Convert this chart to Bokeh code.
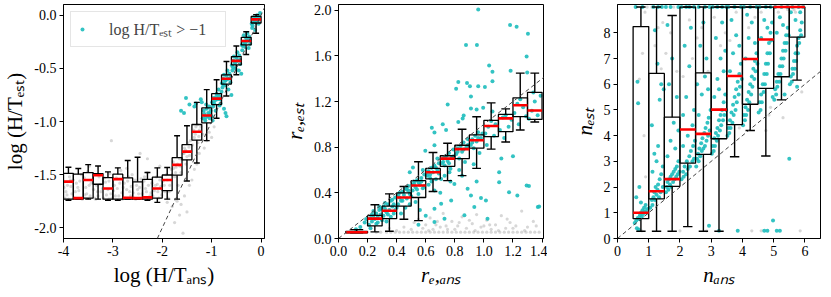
from bokeh.plotting import figure
from bokeh.layouts import row
from bokeh.models import Slope, FixedTicker, PrintfTickFormatter, Legend, LegendItem, Range1d
from bokeh.embed import file_html
from bokeh.resources import INLINE

# ---------------- data ----------------
# panel 1 : log(H/T)
edges1 = [-4.0, -3.8, -3.6, -3.4, -3.2, -3.0, -2.8, -2.6, -2.4, -2.2, -2.0,
          -1.8, -1.6, -1.4, -1.2, -1.0, -0.8, -0.6, -0.4, -0.2, 0.0]
lo1 = [-1.74, -1.73, -1.73, -1.73, -1.74, -1.74, -1.73, -1.73, -1.74, -1.76, -1.73,
       -1.73, -1.56, -1.39, -1.18, -0.97, -0.76, -0.56, -0.37, -0.17]
q1_1 = [-1.73, -1.73, -1.72, -1.59, -1.73, -1.73, -1.73, -1.73, -1.73, -1.72, -1.65,
        -1.505, -1.36, -1.175, -1.012, -0.841, -0.648, -0.467, -0.28, -0.074]
med1 = [-1.565, -1.72, -1.55, -1.505, -1.63, -1.542, -1.717, -1.72, -1.713, -1.63, -1.55,
        -1.408, -1.283, -1.097, -0.944, -0.785, -0.598, -0.43, -0.243, -0.04]
q3_1 = [-1.488, -1.495, -1.48, -1.49, -1.527, -1.495, -1.53, -1.567, -1.545, -1.523, -1.503,
        -1.34, -1.218, -1.028, -0.872, -0.738, -0.561, -0.39, -0.209, -0.012]
hi1 = [-1.43, -1.442, -1.405, -1.418, -1.474, -1.436, -1.367, -1.336, -1.48, -1.436, -1.433,
       -1.134, -1.04, -0.82, -0.70, -0.607, -0.436, -0.29, -0.156, 0.005]

gray1 = [(-3.97, -1.72), (-3.92, -1.60), (-3.88, -1.52), (-3.83, -1.68), (-3.78, -1.72), (-3.74, -1.58),
         (-3.69, -1.65), (-3.64, -1.50), (-3.60, -1.72), (-3.55, -1.62), (-3.51, -1.47), (-3.46, -1.70),
         (-3.42, -1.55), (-3.37, -1.72), (-3.33, -1.60), (-3.28, -1.52), (-3.24, -1.66), (-3.19, -1.72),
         (-3.15, -1.57), (-3.10, -1.64), (-3.06, -1.49), (-3.02, -1.72), (-2.97, -1.60), (-2.93, -1.53),
         (-2.88, -1.70), (-2.84, -1.46), (-2.79, -1.62), (-2.75, -1.72), (-2.70, -1.56), (-2.66, -1.66),
         (-2.61, -1.50), (-2.57, -1.72), (-2.52, -1.60), (-2.48, -1.68), (-2.43, -1.54), (-2.39, -1.72),
         (-2.34, -1.63), (-2.30, -1.48), (-2.25, -1.70), (-2.21, -1.58), (-2.16, -1.65), (-2.12, -1.52),
         (-2.07, -1.72), (-2.03, -1.61), (-3.95, -1.66), (-3.86, -1.55), (-3.71, -1.62), (-3.57, -1.69),
         (-3.44, -1.58), (-3.31, -1.66), (-3.17, -1.53), (-3.04, -1.68), (-2.91, -1.63), (-2.77, -1.58),
         (-2.64, -1.70), (-2.50, -1.64), (-2.37, -1.56), (-2.23, -1.67), (-2.10, -1.59), (-3.90, -1.73),
         (-3.62, -1.73), (-3.35, -1.73), (-3.08, -1.73), (-2.81, -1.73), (-2.54, -1.73), (-2.27, -1.73),
         (-3.99, -1.62), (-3.93, -1.69), (-3.85, -1.61), (-3.80, -1.55), (-3.76, -1.66), (-3.67, -1.56),
         (-3.58, -1.53), (-3.53, -1.68), (-3.48, -1.60), (-3.39, -1.64), (-3.30, -1.70), (-3.26, -1.59),
         (-3.21, -1.63), (-3.13, -1.69), (-3.08, -1.56), (-2.99, -1.65), (-2.95, -1.70), (-2.86, -1.58),
         (-2.82, -1.67), (-2.72, -1.64), (-2.68, -1.52), (-2.63, -1.61), (-2.59, -1.67), (-2.55, -1.55),
         (-2.46, -1.62), (-2.41, -1.68), (-2.36, -1.52), (-2.32, -1.66), (-2.28, -1.60), (-2.19, -1.70),
         (-2.14, -1.60), (-2.09, -1.66), (-2.05, -1.55), (-2.01, -1.69),
         (-3.03, -1.18), (-2.30, -1.35), (-2.05, -1.42), (-2.45, -1.30), (-2.72, -1.44), (-3.48, -1.42),
         (-1.98, -1.56), (-1.95, -1.66), (-1.92, -1.50), (-1.88, -1.72), (-1.85, -1.60), (-1.82, -1.45),
         (-1.78, -1.38), (-1.75, -1.52), (-1.72, -1.43), (-1.68, -1.60), (-1.65, -1.35), (-1.62, -1.48),
         (-1.58, -1.30), (-1.55, -1.25), (-1.52, -1.40), (-1.48, -1.20), (-1.45, -1.32), (-1.42, -1.28),
         (-1.38, -1.10), (-1.35, -1.15), (-1.32, -1.05), (-1.28, -1.20), (-1.25, -1.08), (-1.18, -1.12),
         (-1.96, -1.60), (-1.90, -1.55), (-1.86, -1.66), (-1.80, -1.50), (-1.77, -1.44), (-1.73, -1.48),
         (-1.69, -1.40), (-1.64, -1.42), (-1.60, -1.36), (-1.56, -1.30), (-1.53, -1.27), (-1.50, -1.33),
         (-1.46, -1.24), (-1.43, -1.18), (-1.39, -1.22), (-1.36, -1.08), (-1.33, -1.12), (-1.29, -1.03),
         (-1.26, -1.14), (-1.22, -1.05),
         (-1.70, -1.75), (-1.62, -1.78), (-1.55, -1.70), (-1.50, -1.85), (-1.45, -1.60), (-1.40, -1.55),
         (-1.35, -1.45), (-1.30, -1.40), (-1.25, -1.30), (-1.15, -1.25), (-1.10, -1.18), (-1.05, -1.10),
         (-1.00, -1.15), (-0.95, -1.05), (-1.58, -2.05), (-1.75, -1.95), (-1.65, -1.88), (-1.90, -1.76),
         (-1.80, -1.80)]

cyan1 = [(-1.18, -0.97), (-1.15, -0.93), (-1.12, -0.96), (-1.10, -0.88), (-1.07, -0.92), (-1.04, -0.97),
         (-1.02, -0.90), (-1.00, -0.95), (-1.13, -0.99), (-1.05, -0.86), (-0.98, -0.99), (-1.08, -0.95),
         (-0.99, -0.82), (-0.96, -0.78), (-0.93, -0.80), (-0.90, -0.74), (-0.88, -0.79), (-0.85, -0.76),
         (-0.82, -0.83), (-0.80, -0.72), (-0.97, -0.86), (-0.86, -0.70), (-0.92, -0.90), (-0.84, -0.85),
         (-0.79, -0.64), (-0.76, -0.60), (-0.73, -0.62), (-0.70, -0.57), (-0.67, -0.60), (-0.64, -0.55),
         (-0.62, -0.63), (-0.78, -0.68), (-0.68, -0.52), (-0.72, -0.66), (-0.66, -0.70), (-0.75, -0.56),
         (-0.59, -0.47), (-0.56, -0.43), (-0.53, -0.45), (-0.50, -0.40), (-0.47, -0.43), (-0.44, -0.38),
         (-0.42, -0.46), (-0.58, -0.52), (-0.48, -0.35), (-0.52, -0.50), (-0.45, -0.52), (-0.55, -0.39),
         (-0.39, -0.28), (-0.36, -0.25), (-0.33, -0.26), (-0.30, -0.22), (-0.27, -0.24), (-0.24, -0.20),
         (-0.22, -0.27), (-0.38, -0.33), (-0.28, -0.17), (-0.32, -0.30), (-0.25, -0.31), (-0.35, -0.19),
         (-0.19, -0.08), (-0.16, -0.05), (-0.13, -0.06), (-0.10, -0.03), (-0.07, -0.04), (-0.04, -0.01),
         (-0.18, -0.12), (-0.12, -0.14), (-0.08, 0.00), (-0.15, -0.02), (-0.05, -0.08), (-0.02, 0.02),
         (-1.16, -0.90), (-1.11, -0.84), (-1.03, -0.93), (-0.95, -0.83), (-0.91, -0.77), (-0.83, -0.79),
         (-0.77, -0.65), (-0.71, -0.61), (-0.63, -0.59), (-0.57, -0.49), (-0.51, -0.44), (-0.43, -0.42),
         (-0.37, -0.29), (-0.31, -0.26), (-0.23, -0.23), (-0.17, -0.10), (-0.11, -0.07), (-0.06, -0.05),
         (-1.52, -0.78), (-1.62, -0.90), (-1.56, -0.92), (-1.32, -0.83), (-1.35, -0.86), (-1.45, -0.84),
         (-1.22, -0.79), (-0.72, -0.92), (-0.70, -0.95), (-0.75, -0.88), (-1.20, -0.82), (-0.60, -0.75),
         (-0.40, -0.55)]

# panel 2 : r_e
edges2 = [0.05, 0.2, 0.3, 0.4, 0.5, 0.6, 0.7, 0.8, 0.9, 1.0, 1.1, 1.2, 1.3, 1.4]
lo2 = [0.05, 0.058, 0.064, 0.168, 0.157, 0.412, 0.507, 0.551, 0.614, 0.783, 0.846, 0.95, 1.02]
q1_2 = [0.05, 0.11, 0.174, 0.284, 0.359, 0.522, 0.632, 0.70, 0.791, 0.893, 0.936, 1.067, 1.043]
med2 = [0.055, 0.174, 0.243, 0.359, 0.464, 0.58, 0.70, 0.783, 0.861, 0.985, 1.052, 1.168, 1.122]
q3_2 = [0.062, 0.203, 0.284, 0.40, 0.507, 0.614, 0.725, 0.817, 0.907, 1.035, 1.087, 1.232, 1.281]
hi2 = [0.078, 0.296, 0.391, 0.455, 0.672, 0.754, 0.835, 0.957, 1.067, 1.188, 1.136, 1.449, 1.449]

cyan2 = [(0.15, 0.10), (0.18, 0.14), (0.12, 0.08), (0.19, 0.17),
         (0.21, 0.12), (0.22, 0.18), (0.23, 0.15), (0.24, 0.20), (0.25, 0.17), (0.26, 0.22), (0.27, 0.19),
         (0.28, 0.25), (0.29, 0.21), (0.22, 0.09), (0.26, 0.13), (0.28, 0.28), (0.24, 0.24), (0.30, 0.16),
         (0.31, 0.20), (0.32, 0.26), (0.33, 0.23), (0.34, 0.30), (0.35, 0.25), (0.36, 0.33), (0.37, 0.28),
         (0.38, 0.22), (0.39, 0.36), (0.33, 0.15), (0.36, 0.19), (0.38, 0.30), (0.32, 0.31), (0.40, 0.27),
         (0.41, 0.30), (0.42, 0.36), (0.43, 0.33), (0.44, 0.41), (0.45, 0.38), (0.46, 0.44), (0.47, 0.35),
         (0.48, 0.42), (0.49, 0.30), (0.43, 0.22), (0.46, 0.27), (0.48, 0.46), (0.42, 0.40), (0.50, 0.37),
         (0.51, 0.42), (0.52, 0.48), (0.53, 0.45), (0.54, 0.51), (0.55, 0.39), (0.56, 0.47), (0.57, 0.53),
         (0.58, 0.44), (0.59, 0.56), (0.53, 0.32), (0.56, 0.25), (0.58, 0.60), (0.52, 0.50), (0.55, 0.49),
         (0.61, 0.55), (0.62, 0.59), (0.63, 0.56), (0.64, 0.62), (0.65, 0.58), (0.66, 0.64), (0.67, 0.52),
         (0.68, 0.60), (0.69, 0.66), (0.62, 0.47), (0.66, 0.42), (0.68, 0.70), (0.64, 0.50),
         (0.71, 0.66), (0.72, 0.70), (0.73, 0.64), (0.74, 0.72), (0.75, 0.68), (0.76, 0.75), (0.77, 0.61),
         (0.78, 0.71), (0.79, 0.78), (0.73, 0.55), (0.77, 0.50),
         (0.81, 0.74), (0.82, 0.79), (0.83, 0.70), (0.84, 0.81), (0.85, 0.76), (0.86, 0.84), (0.87, 0.67),
         (0.88, 0.80), (0.89, 0.87), (0.83, 0.60),
         (0.91, 0.82), (0.92, 0.87), (0.93, 0.79), (0.94, 0.90), (0.95, 0.85), (0.96, 0.93), (0.97, 0.75),
         (0.98, 0.88), (0.93, 0.65),
         (1.01, 0.92), (1.03, 0.98), (1.05, 1.03), (1.07, 0.90), (1.08, 1.00), (1.02, 0.82),
         (1.11, 0.95), (1.13, 1.06), (1.15, 1.08), (1.17, 0.98), (1.19, 1.04), (1.14, 0.88),
         (1.21, 1.10), (1.23, 1.18), (1.25, 1.22), (1.27, 1.15), (1.29, 1.07), (1.24, 1.00),
         (1.31, 1.05), (1.33, 1.12), (1.35, 1.20), (1.37, 1.08), (1.39, 1.25), (1.34, 1.28),
         (0.23, 0.21), (0.27, 0.14), (0.29, 0.26), (0.31, 0.28), (0.34, 0.21), (0.37, 0.34), (0.39, 0.25),
         (0.41, 0.38), (0.44, 0.33), (0.47, 0.43), (0.49, 0.39), (0.51, 0.47), (0.54, 0.43), (0.57, 0.50),
         (0.59, 0.46), (0.61, 0.58), (0.63, 0.53), (0.67, 0.62), (0.69, 0.57), (0.72, 0.67), (0.76, 0.66),
         (0.79, 0.72), (0.82, 0.76), (0.86, 0.78), (0.89, 0.82), (0.92, 0.84), (0.96, 0.88), (0.99, 0.92),
         (0.961, 2.006), (1.18, 1.87), (1.225, 1.855), (1.303, 1.794), (0.877, 1.696), (0.952, 1.696),
         (1.294, 1.594), (1.036, 1.516), (1.059, 1.461), (1.184, 1.47), (1.298, 1.455), (0.824, 1.371),
         (0.809, 1.313), (0.884, 1.362), (0.904, 1.333), (0.961, 1.333), (1.007, 1.327), (1.059, 1.377),
         (0.911, 1.243), (0.751, 1.174), (0.911, 1.139), (0.95, 1.13), (0.995, 1.145), (0.861, 1.078),
         (0.854, 1.052), (0.824, 1.02), (0.717, 1.0), (0.642, 0.971), (0.66, 0.928), (0.74, 0.95),
         (1.059, 1.113), (0.66, 0.817), (0.597, 0.768), (0.512, 0.623), (0.49, 0.58), (0.706, 0.522),
         (0.763, 0.58), (0.797, 0.478), (0.888, 0.435), (0.911, 0.377), (0.98, 0.354), (1.014, 0.333),
         (1.105, 0.58), (1.105, 0.493), (1.173, 0.406), (1.23, 0.377), (1.294, 0.464), (1.371, 0.275),
         (1.025, 0.174), (0.934, 0.275), (0.775, 0.333), (0.706, 0.304), (0.66, 0.261), (0.729, 0.174),
         (0.866, 0.203), (0.66, 0.145), (0.60, 0.20), (0.55, 0.12), (0.70, 0.40), (0.85, 0.55),
         (0.95, 0.50), (1.12, 0.70), (1.20, 0.72), (1.38, 0.28), (1.31, 0.46)]

gray2 = [(0.26, 0.055), (0.29, 0.055), (0.33, 0.055), (0.36, 0.055), (0.39, 0.055), (0.42, 0.055),
         (0.45, 0.055), (0.48, 0.055), (0.51, 0.055), (0.54, 0.055), (0.57, 0.055), (0.60, 0.055),
         (0.63, 0.055), (0.66, 0.055), (0.69, 0.055), (0.72, 0.055), (0.75, 0.055), (0.78, 0.055),
         (0.81, 0.055), (0.84, 0.055), (0.87, 0.055), (0.90, 0.055), (0.93, 0.055), (0.96, 0.055),
         (0.99, 0.055), (1.02, 0.055), (1.05, 0.055), (1.08, 0.055), (1.11, 0.055), (1.14, 0.055),
         (1.17, 0.055), (1.20, 0.055), (1.23, 0.055), (1.26, 0.055), (1.29, 0.055), (1.32, 0.055),
         (1.35, 0.055), (1.38, 0.055),
         (0.45, 0.10), (0.52, 0.14), (0.58, 0.09), (0.63, 0.18), (0.67, 0.12), (0.72, 0.22), (0.75, 0.08),
         (0.78, 0.15), (0.82, 0.11), (0.85, 0.19), (0.88, 0.09), (0.92, 0.13), (0.95, 0.21), (0.98, 0.10),
         (1.02, 0.16), (1.05, 0.08), (1.08, 0.12), (1.12, 0.20), (1.15, 0.09), (1.18, 0.14), (1.22, 0.11),
         (1.26, 0.24), (1.30, 0.10), (1.34, 0.15), (0.60, 0.12), (0.70, 0.10), (0.80, 0.08), (0.90, 0.16),
         (1.00, 0.11), (1.10, 0.07), (1.20, 0.09), (0.50, 0.08), (0.55, 0.17), (0.65, 0.08), (0.40, 0.07),
         (0.35, 0.09), (0.62, 0.07), (0.68, 0.15), (0.74, 0.11), (0.83, 0.14), (0.94, 0.07), (1.04, 0.12),
         (1.16, 0.17), (1.28, 0.07), (1.36, 0.11)]

# panel 3 : n
edges3 = [0.5, 1.0, 1.5, 2.0, 2.5, 3.0, 3.5, 4.0, 4.5, 5.0, 5.5, 6.0]
lo3 = [0.28, 0.28, 0.28, 0.46, 0.28, 0.28, 3.18, 4.2, 3.21, 5.39, 6.16]
q1_3 = [0.77, 1.54, 2.03, 2.93, 3.27, 3.88, 4.43, 5.22, 5.84, 6.29, 7.83]
med3 = [1.0, 1.84, 2.31, 4.24, 4.07, 5.01, 6.32, 6.98, 7.74, 9.0, 9.0]
q3_3 = [8.24, 6.42, 4.72, 9.0, 6.44, 9.0, 9.0, 9.0, 9.0, 9.0, 9.0]
hi3 = [9.0, 9.0, 8.67, 9.0, 9.0, 9.0, 9.0, 9.0, 9.0, 9.0, 9.0]

cyan3 = [(0.55, 0.6), (0.6, 0.7), (0.65, 0.8), (0.7, 0.75), (0.72, 0.9), (0.75, 1.0), (0.78, 0.85),
         (0.8, 1.1), (0.82, 0.95), (0.85, 1.2), (0.88, 1.05), (0.9, 1.3), (0.93, 1.0), (0.95, 1.15),
         (0.62, 0.4), (0.68, 0.35), (0.66, 5.26), (0.6, 1.6), (0.7, 2.0), (0.58, 9.0), (0.8, 9.0),
         (0.64, 6.1), (0.75, 1.4),
         (1.05, 1.2), (1.1, 1.5), (1.12, 1.3), (1.15, 1.6), (1.18, 1.8), (1.2, 1.5), (1.22, 2.0), (1.25, 1.7),
         (1.28, 1.9), (1.3, 2.1), (1.33, 1.6), (1.35, 2.3), (1.38, 1.8), (1.4, 2.5), (1.45, 2.0), (1.12, 2.6),
         (1.18, 3.3), (1.3, 3.6), (1.35, 5.4), (1.28, 6.8), (1.2, 8.1), (1.4, 6.0), (1.1, 4.4), (1.25, 3.0),
         (1.45, 2.8), (1.15, 9.0), (1.3, 9.0), (1.42, 9.0), (1.48, 5.8),
         (1.55, 1.8), (1.58, 2.0), (1.6, 2.2), (1.63, 1.9), (1.65, 2.3), (1.68, 2.1), (1.7, 2.4), (1.72, 2.0),
         (1.75, 2.5), (1.78, 2.2), (1.8, 2.6), (1.83, 2.3), (1.85, 2.7), (1.88, 2.4), (1.9, 2.8), (1.93, 2.5),
         (1.95, 3.0), (1.98, 2.6), (1.6, 3.2), (1.7, 3.8), (1.8, 4.5), (1.65, 6.0), (1.75, 7.0), (1.9, 5.5),
         (1.85, 3.5), (1.55, 9.0), (1.7, 9.0), (1.95, 9.0), (1.6, 8.3), (1.95, 4.2),
         (2.05, 2.3), (2.1, 2.6), (2.12, 2.4), (2.15, 2.8), (2.2, 2.5), (2.22, 3.0), (2.25, 2.7), (2.3, 3.2),
         (2.32, 2.8), (2.35, 3.4), (2.4, 3.0), (2.42, 3.6), (2.45, 3.1), (2.48, 3.8), (2.1, 4.8), (2.2, 5.5),
         (2.3, 6.7), (2.4, 4.4), (2.15, 7.5), (2.35, 8.2), (2.45, 5.0), (2.25, 4.0), (2.05, 9.0), (2.2, 9.0),
         (2.3, 9.0), (2.45, 9.0), (2.1, 3.6),
         (2.52, 2.8), (2.55, 3.1), (2.58, 3.3), (2.6, 3.0), (2.62, 3.5), (2.65, 3.2), (2.68, 3.7), (2.7, 3.4),
         (2.72, 3.9), (2.75, 3.5), (2.78, 4.1), (2.8, 3.6), (2.82, 4.3), (2.85, 3.8), (2.88, 4.5), (2.9, 4.0),
         (2.92, 4.7), (2.95, 4.2), (2.98, 5.0), (2.6, 4.8), (2.7, 5.6), (2.8, 6.3), (2.65, 7.5), (2.9, 5.8),
         (2.55, 6.0), (2.75, 8.4), (2.85, 7.0), (2.6, 9.0), (2.8, 9.0), (2.95, 9.0), (2.93, 0.5),
         (3.02, 3.3), (3.05, 3.6), (3.08, 3.4), (3.1, 3.9), (3.12, 3.6), (3.15, 4.1), (3.18, 3.8), (3.2, 4.3),
         (3.22, 4.0), (3.25, 4.6), (3.28, 4.2), (3.3, 4.8), (3.32, 4.4), (3.35, 5.0), (3.38, 4.6), (3.4, 5.3),
         (3.42, 4.8), (3.45, 5.6), (3.48, 5.0), (3.1, 5.5), (3.2, 6.2), (3.3, 7.0), (3.4, 6.5), (3.15, 7.8),
         (3.35, 8.4), (3.25, 5.8), (3.45, 7.3), (3.05, 9.0), (3.2, 9.0), (3.35, 9.0), (3.48, 9.0), (3.25, 0.3),
         (3.52, 4.0), (3.55, 4.3), (3.58, 4.1), (3.6, 4.6), (3.62, 4.3), (3.65, 4.9), (3.68, 4.5), (3.7, 5.2),
         (3.72, 4.8), (3.75, 5.5), (3.78, 5.0), (3.8, 5.8), (3.82, 5.3), (3.85, 6.1), (3.88, 5.6), (3.9, 6.4),
         (3.92, 5.9), (3.95, 6.8), (3.98, 6.2), (3.6, 6.5), (3.7, 7.2), (3.8, 7.9), (3.65, 8.5), (3.9, 7.5),
         (3.55, 9.0), (3.75, 9.0), (3.95, 9.0), (3.85, 0.3),
         (4.02, 4.4), (4.05, 4.8), (4.08, 4.6), (4.1, 5.1), (4.12, 4.8), (4.15, 5.4), (4.18, 5.0), (4.2, 5.7),
         (4.22, 5.3), (4.25, 6.0), (4.28, 5.6), (4.3, 6.3), (4.32, 5.9), (4.35, 6.6), (4.38, 6.2), (4.4, 6.9),
         (4.42, 6.5), (4.45, 7.2), (4.48, 6.8), (4.1, 7.0), (4.2, 7.8), (4.3, 8.4), (4.4, 7.6), (4.15, 8.7),
         (4.05, 9.0), (4.25, 9.0), (4.45, 9.0),
         (4.52, 4.9), (4.55, 5.3), (4.58, 5.0), (4.6, 5.6), (4.62, 5.3), (4.65, 6.0), (4.68, 5.7), (4.7, 6.4),
         (4.72, 6.0), (4.75, 6.8), (4.78, 6.4), (4.8, 7.2), (4.82, 6.8), (4.85, 7.6), (4.88, 7.2), (4.9, 8.0),
         (4.92, 7.7), (4.95, 8.4), (4.6, 7.8), (4.7, 8.5), (4.8, 8.2), (4.55, 9.0), (4.75, 9.0), (4.9, 9.0),
         (4.7, 0.3), (4.8, 0.3), (4.98, 0.7), (4.97, 5.5),
         (5.02, 5.4), (5.05, 5.8), (5.08, 5.6), (5.1, 6.1), (5.12, 5.9), (5.15, 6.4), (5.18, 6.1), (5.2, 6.7),
         (5.22, 6.4), (5.25, 7.0), (5.28, 6.7), (5.3, 7.3), (5.32, 7.0), (5.35, 7.6), (5.38, 7.3), (5.4, 7.9),
         (5.42, 7.6), (5.45, 8.2), (5.48, 7.9), (5.1, 8.0), (5.2, 8.6), (5.3, 8.3), (5.05, 9.0), (5.25, 9.0),
         (5.45, 9.0), (5.1, 0.3), (5.2, 0.3), (5.5, 3.1), (5.35, 5.6),
         (5.52, 6.0), (5.55, 6.3), (5.58, 6.1), (5.6, 6.6), (5.62, 6.4), (5.65, 6.9), (5.68, 6.6), (5.7, 7.2),
         (5.72, 6.9), (5.75, 7.5), (5.78, 7.2), (5.8, 7.8), (5.82, 7.6), (5.85, 8.1), (5.88, 7.9), (5.9, 8.4),
         (5.55, 8.8), (5.7, 8.5), (5.85, 8.8), (5.6, 9.0), (5.8, 9.0), (5.95, 9.0), (5.75, 5.9)]

gray3 = [(0.8, 7.2), (0.85, 4.0), (0.9, 2.4), (0.7, 6.2), (0.6, 9.0), (0.95, 9.0), (0.88, 8.8), (0.78, 0.3),
         (1.2, 7.5), (1.4, 6.6), (1.1, 9.0), (1.45, 8.4), (1.3, 8.2),
         (1.7, 8.0), (1.9, 6.5), (1.55, 7.2), (1.8, 9.0),
         (2.3, 8.5), (2.1, 6.3), (2.4, 7.0), (2.0, 0.3), (2.35, 9.0),
         (2.7, 8.2), (2.9, 6.5), (2.55, 7.8), (2.85, 0.3),
         (3.1, 8.6), (3.3, 7.5), (3.45, 8.0), (3.15, 9.0),
         (3.6, 7.7), (3.8, 8.8), (3.9, 4.3), (3.7, 9.0),
         (4.2, 8.2), (4.4, 8.6), (4.35, 9.0), (4.3, 0.3),
         (4.6, 8.8), (4.85, 4.8), (4.9, 5.1), (4.6, 0.3), (4.75, 4.2),
         (5.15, 8.8), (5.3, 4.7), (5.45, 8.9), (5.4, 9.0),
         (5.65, 8.9), (5.9, 5.7), (5.85, 0.3), (5.9, 9.0), (5.7, 8.8)]

legend_label = "log H/Tₑₛₜ > −1"

# ---------------- styling ----------------
CYAN = "#1dbdbd"
GRAY = "#9a9a9a"
SERIF = "Liberation Serif"


def make_fig(xr, yr, fw, left, right, xticks, yticks, xfmt, yfmt, xlabel, ylabel, italic):
    p = figure(frame_width=fw, frame_height=234, x_range=Range1d(*xr), y_range=Range1d(*yr),
               output_backend="svg", toolbar_location=None,
               min_border_left=left, min_border_right=right, min_border_top=4, min_border_bottom=48)
    p.grid.visible = False
    p.outline_line_color = "black"
    p.outline_line_alpha = 1.0
    p.outline_line_width = 1
    p.background_fill_color = "white"
    p.border_fill_color = "white"
    p.xaxis.ticker = FixedTicker(ticks=xticks)
    p.yaxis.ticker = FixedTicker(ticks=yticks)
    p.xaxis.formatter = PrintfTickFormatter(format=xfmt)
    p.yaxis.formatter = PrintfTickFormatter(format=yfmt)
    p.xaxis.axis_label = xlabel
    p.yaxis.axis_label = ylabel
    for ax in p.axis:
        ax.axis_line_color = "black"
        ax.major_tick_line_color = "black"
        ax.major_tick_in = 0
        ax.major_tick_out = 4
        ax.minor_tick_line_color = None
        ax.major_label_text_font = SERIF
        ax.major_label_text_font_size = "14px"
        ax.major_label_text_color = "black"
        ax.major_label_standoff = 3
        ax.axis_label_text_font = SERIF
        ax.axis_label_text_font_size = "21px"
        ax.axis_label_text_font_style = "italic" if italic else "normal"
        ax.axis_label_text_color = "black"
        ax.axis_label_standoff = 4
    return p


def draw_boxes(p, edges, lo, q1, med, q3, hi):
    xc = [(a + b) / 2 for a, b in zip(edges[:-1], edges[1:])]
    w = [(b - a) for a, b in zip(edges[:-1], edges[1:])]
    cap = [0.6 * v for v in w]
    p.segment(x0=xc, y0=q3, x1=xc, y1=hi, line_color="black", line_width=1.4)
    p.segment(x0=xc, y0=q1, x1=xc, y1=lo, line_color="black", line_width=1.4)
    p.segment(x0=[c - k / 2 for c, k in zip(xc, cap)], y0=hi, x1=[c + k / 2 for c, k in zip(xc, cap)], y1=hi,
              line_color="black", line_width=1.4)
    p.segment(x0=[c - k / 2 for c, k in zip(xc, cap)], y0=lo, x1=[c + k / 2 for c, k in zip(xc, cap)], y1=lo,
              line_color="black", line_width=1.4)
    p.vbar(x=xc, width=w, bottom=q1, top=q3, fill_color=None, line_color="black", line_width=1.3)
    p.segment(x0=[c - v / 2 for c, v in zip(xc, w)], y0=med, x1=[c + v / 2 for c, v in zip(xc, w)], y1=med,
              line_color="#ff0000", line_width=2.6)


def pts(p, data, color, size, alpha):
    return p.scatter([d[0] for d in data], [d[1] for d in data], size=size, color=color,
                     alpha=alpha, line_color=None)


def diag(p):
    p.add_layout(Slope(gradient=1, y_intercept=0, line_color="#444444", line_width=1, line_dash="4 3"))


# panel 1
p1 = make_fig((-4.0, 0.07), (-2.1, 0.1), 201, 56, 4,
              [-4, -3, -2, -1, 0], [-2.0, -1.5, -1.0, -0.5, 0.0], "%d", "%.1f",
              "log (H/Tₐₙₛ)", "log (H/Tₑₛₜ)", False)
pts(p1, gray1, GRAY, 3.2, 0.4)
rc = pts(p1, cyan1, CYAN, 4, 0.9)
diag(p1)
draw_boxes(p1, edges1, lo1, q1_1, med1, q3_1, hi1)
leg = Legend(items=[LegendItem(label=legend_label, renderers=[rc])], location="top_left")
leg.label_text_font = SERIF
leg.label_text_font_size = "16px"
leg.border_line_color = "#cccccc"
leg.border_line_width = 1
leg.background_fill_alpha = 0.85
leg.margin = 7
leg.padding = 6
leg.spacing = 0
leg.glyph_width = 10
leg.glyph_height = 10
leg.label_standoff = 22
leg.label_width = 110
leg.label_height = 16
p1.add_layout(leg)

# panel 2
p2 = make_fig((0.0, 1.41), (0.0, 2.05), 205, 70, 4,
              [0.0, 0.2, 0.4, 0.6, 0.8, 1.0, 1.2, 1.4], [0.0, 0.4, 0.8, 1.2, 1.6, 2.0], "%.1f", "%.1f",
              "rₑ,ₐₙₛ", "rₑ,ₑₛₜ", True)
pts(p2, gray2, GRAY, 3.2, 0.4)
pts(p2, cyan2, CYAN, 4, 0.9)
diag(p2)
draw_boxes(p2, edges2, lo2, q1_2, med2, q3_2, hi2)

# panel 3
p3 = make_fig((0.0, 6.5), (0.0, 9.1), 203, 70, 2,
              [0, 1, 2, 3, 4, 5, 6], [0, 1, 2, 3, 4, 5, 6, 7, 8], "%d", "%d",
              "nₐₙₛ", "nₑₛₜ", True)
pts(p3, gray3, GRAY, 3.2, 0.4)
pts(p3, cyan3, CYAN, 4, 0.9)
diag(p3)
draw_boxes(p3, edges3, lo3, q1_3, med3, q3_3, hi3)

layout = row(p1, p2, p3, spacing=0)
open("out.html", "w").write(file_html(layout, INLINE))
